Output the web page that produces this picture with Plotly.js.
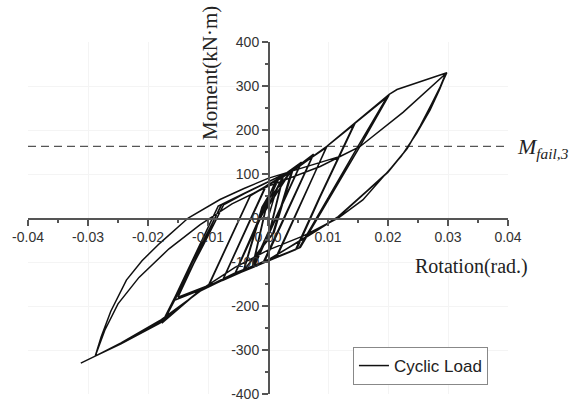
<!DOCTYPE html>
<html>
<head>
<meta charset="utf-8">
<script src="https://cdn.plot.ly/plotly-3.0.1.min.js"></script>
<style>html,body{margin:0;padding:0;background:#fff;}#chart{width:577px;height:401px;}</style>
</head>
<body>
<div id="chart"></div>
<script>
// Rotation (rad.), in loading order
const rotation = [
  0, 0.0012, 0.0025, 0.0004, -0.0025, -0.0004, 0.0026, 0.0005, -0.0026, -0.0005,
  0.0040, 0.0008, -0.0040, -0.0008, 0.0042, 0.0010, -0.0041, -0.0010,
  0.0016, 0.0055, -0.0025, -0.0055, 0.0018, 0.0056, -0.0023, -0.0056,
  0.0012, 0.0040, 0.0075, -0.0008, -0.0075, -0.0003, 0.0040, 0.0076, -0.0006, -0.0076, -0.0005,
  0.0040, 0.0098, 0.0013, -0.0050, -0.0100, -0.0029, 0.0040, 0.0097, 0.0015, -0.0050, -0.0101, -0.0030,
  0.0040, 0.0098, 0.0145, 0.0087, 0.0048, 0.0000, -0.0075, -0.0113, -0.0158, -0.0083,
  -0.0040, 0.0000, 0.0050, 0.0098, 0.0143, 0.0085, 0.0046, 0.0000, -0.0080, -0.0150, -0.0078,
  -0.0040, 0.0000, 0.0050, 0.0098, 0.0145, 0.0202, 0.0153, 0.0103, 0.0054, 0.0000, -0.0055, -0.0113, -0.0177, -0.0113, -0.0077,
  -0.0040, 0.0000, 0.0050, 0.0098, 0.0145, 0.0198, 0.0148, 0.0100, 0.0052, 0.0000, -0.0055, -0.0113, -0.0172, -0.0108, -0.0074,
  -0.0040, 0.0000, 0.0050, 0.0098, 0.0145, 0.0202, 0.0215, 0.0298,
  0.0288, 0.0274, 0.0255, 0.0233, 0.0200, 0.0167, 0.0117, 0.0055, 0.0000, -0.0055, -0.0113, -0.0180, -0.0245, -0.0288,
  -0.0278, -0.0262, -0.0236, -0.0210, -0.0180, -0.0133, -0.0080, -0.0040, 0.0000, 0.0060, 0.0120, 0.0153, 0.0225, 0.0297,
  0.0286, 0.0270, 0.0248, 0.0222, 0.0190, 0.0158, 0.0117, 0.0060, 0.0000, -0.0055, -0.0113, -0.0180, -0.0245, -0.0288,
  -0.0272, -0.0250, -0.0215, -0.0165, -0.0113, -0.0060, 0.0000, 0.0087, 0.0153, 0.0225, 0.0296,
  0.0287, 0.0273, 0.0254, 0.0232, 0.0200, 0.0166, 0.0117, 0.0056, 0.0000, -0.0055, -0.0113, -0.0180, -0.0245, -0.0288, -0.0312
];
// Moment (kN·m), same order
const moment = [
  0, 55, 95, -22, -108, 18, 97, -20, -110, 15,
  110, -35, -118, 28, 112, -33, -120, 25,
  86, 125, -111, -127, 90, 127, -110, -129,
  82, 106, 143, -101, -140, 73, 108, 145, -100, -142, 70,
  107, 162, -90, -125, -157, 52, 107, 160, -88, -124, -158, 50,
  106, 163, 215, 48, -70, -97, -140, -164, -188, 27,
  55, 82, 115, 163, 212, 45, -72, -98, -143, -180, 30,
  56, 82, 115, 163, 216, 280, 162, 48, -67, -96, -125, -164, -239, -66, 31,
  56, 82, 115, 163, 215, 274, 158, 45, -68, -97, -126, -165, -230, -62, 30,
  55, 82, 115, 163, 216, 281, 292, 330,
  300, 262, 212, 160, 105, 64, 3, -50, -96, -127, -166, -233, -284, -314,
  -270, -212, -141, -97, -57, 0, 42, 67, 90, 115, 140, 162, 240, 329,
  292, 245, 193, 140, 90, 41, 0, -40, -73, -112, -164, -239, -286, -314,
  -255, -195, -135, -70, -15, 32, 72, 117, 162, 240, 328,
  298, 260, 210, 158, 104, 62, 2, -50, -95, -126, -166, -235, -286, -314, -330
];
const failMoment = 163;
const failLineX = [-0.04, 0.0395];
const xTickVals = [-0.04, -0.03, -0.02, -0.01, 0, 0.01, 0.02, 0.03, 0.04];
const xTickText = ['-0.04', '-0.03', '-0.02', '-0.01', '0.00', '0.01', '0.02', '0.03', '0.04'];
const yTickVals = [-400, -300, -200, -100, 0, 100, 200, 300, 400];
const yTickText = ['-400', '-300', '-200', '-100', '0', '100', '200', '300', '400'];

const axisCommon = {
  anchor: 'free', position: 0.5,
  showline: true, linecolor: '#555', linewidth: 1.5,
  ticks: 'outside', ticklen: 6, tickwidth: 1.3, tickcolor: '#555',
  tickmode: 'array', ticklabeloverflow: 'allow',
  tickfont: {family: 'Liberation Sans, Arial, sans-serif', size: 14, color: '#333'},
  showgrid: true, gridcolor: '#f4f4f4', gridwidth: 1,
  zeroline: false, fixedrange: true
};

const traces = [
  {
    x: failLineX, y: [failMoment, failMoment], mode: 'lines', showlegend: false,
    line: {color: '#555', width: 1.3, dash: '8px,5px'}, hoverinfo: 'skip'
  },
  {
    x: rotation, y: moment, mode: 'lines', name: 'Cyclic Load',
    line: {color: '#111', width: 1.5}, hoverinfo: 'skip'
  }
];

const layout = {
  width: 577, height: 401,
  margin: {l: 28, r: 69, t: 42, b: 7},
  paper_bgcolor: '#fff', plot_bgcolor: '#fff',
  xaxis: Object.assign({}, axisCommon, {
    range: [-0.04, 0.04], tickvals: xTickVals, ticktext: xTickText,
    minor: {ticks: 'outside', ticklen: 3, tickwidth: 1.2, tickcolor: '#555', tickmode: 'linear', tick0: 0, dtick: 0.005, showgrid: false}
  }),
  yaxis: Object.assign({}, axisCommon, {
    range: [-400, 400], tickvals: yTickVals, ticktext: yTickText,
    minor: {ticks: 'outside', ticklen: 3, tickwidth: 1.2, tickcolor: '#555', tickmode: 'linear', tick0: 0, dtick: 50, showgrid: false}
  }),
  showlegend: true,
  legend: {
    x: 0.677, y: 0.1335, xanchor: 'left', yanchor: 'top',
    bordercolor: '#888', borderwidth: 1, bgcolor: '#fff',
    font: {family: 'Liberation Sans, Arial, sans-serif', size: 17, color: '#222'}
  },
  annotations: [
    {text: 'Moment(kN·m)', xref: 'paper', yref: 'paper', x: 0.379, y: 0.912, textangle: -90,
     showarrow: false, xanchor: 'center', yanchor: 'middle',
     font: {family: 'Liberation Serif, Times New Roman, serif', size: 21, color: '#222'}},
    {text: 'Rotation(rad.)', xref: 'paper', yref: 'paper', x: 0.924, y: 0.361,
     showarrow: false, xanchor: 'center', yanchor: 'middle',
     font: {family: 'Liberation Serif, Times New Roman, serif', size: 20, color: '#222'}},
    {text: '<i>M</i><sub><i>fail,3</i></sub>', xref: 'paper', yref: 'paper', x: 1.0146, y: 0.699,
     showarrow: false, xanchor: 'left', yanchor: 'middle',
     font: {family: 'Liberation Serif, Times New Roman, serif', size: 22, color: '#222'}}
  ]
};

Plotly.newPlot('chart', traces, layout, {staticPlot: true, displayModeBar: false});
</script>
</body>
</html>
